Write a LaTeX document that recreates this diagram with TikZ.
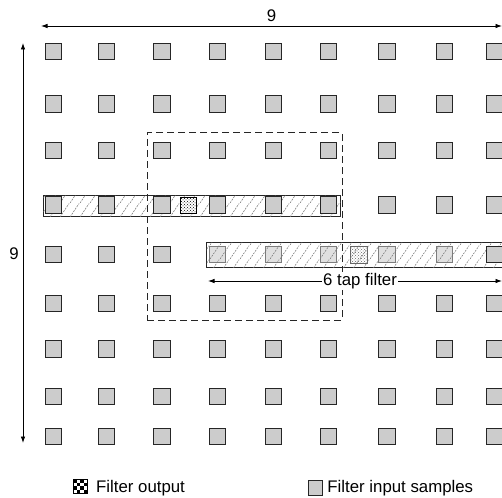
\documentclass[tikz,border=0pt]{standalone}
\usepackage{fontspec}
\setmainfont{Liberation Sans}
\usetikzlibrary{arrows.meta,patterns,patterns.meta,positioning}
\definecolor{Sample}{HTML}{CCCCCC}
\definecolor{Edge}{HTML}{262626}
\definecolor{Hatch}{HTML}{777777}
\tikzdeclarepattern{
  name=bandhatch,
  type=uncolored,
  bounding box={(0pt,0pt) and (10pt,14pt)},
  tile size={(10pt,14pt)},
  code={\draw[line width=.6pt,dash pattern=on 2pt off 1.2pt] (0pt,0pt) -- (10pt,14pt);}
}
\tikzset{
  sample/.style={draw=Edge,fill=Sample,line width=1pt,minimum size=16.5pt,inner sep=0pt},
  output/.style={draw=black,fill=white,line width=1pt,minimum size=16.5pt,inner sep=0pt,postaction={pattern=crosshatch dots}},
  band/.style={draw=Edge,fill=white,line width=.9pt,inner sep=0pt,postaction={pattern=bandhatch,pattern color=Hatch}},
  overband/.style={draw=Edge,fill=white,fill opacity=.4,line width=.9pt,inner sep=0pt,postaction={pattern=bandhatch,pattern color=Hatch,fill opacity=1}},
  region/.style={draw=Edge,dash pattern=on 7pt off 4pt,line width=1pt,inner sep=0pt},
  dimline/.style={{Latex[length=6.5pt,width=4.5pt]}-{Latex[length=6.5pt,width=4.5pt]},line width=.8pt},
  dimtext/.style={font=\fontsize{16.8}{19}\selectfont,inner sep=1pt}
}

\begin{document}
\begin{tikzpicture}[x=1pt,y=-1pt]
  \useasboundingbox (0,0) rectangle (502,497);
  % size of the picture
  \coordinate (wl) at (41,26);
  \coordinate (wr) at (502,26);
  \coordinate (ht) at (23,43);
  \coordinate (hb) at (23,443);
  \draw[dimline] (wl) -- node[dimtext,above=3pt] (wlab) {9} (wr);
  \draw[dimline] (ht) -- (hb);
  \node[dimtext] (hlab) at (14,254) {9};

  % horizontal filter behind the samples
  \node[band,anchor=west,minimum width=297pt,minimum height=21pt] (band1) at (43,205.5) {};

  % input samples
  \foreach \x [count=\c] in {53.5,106.5,162,217.5,273.5,328.5,387,444.5,495}
    \foreach \y [count=\r] in {51.5,104,150.5,205,254.5,303.5,349,396.5,436.5}
      \node[sample] (s\c-\r) at (\x,\y) {};

  \node[output] (out1) at (188.5,205.5) {};
  \node[output] (out2) at (359,255) {};

  % second filter over the samples
  \node[overband,anchor=west,minimum width=302pt,minimum height=25pt] (band2) at (206,255) {};
  \node[sample] at (s9-5) {};

  % window
  \node[region,minimum width=195pt,minimum height=187pt] (win) at (244.5,226.5) {};

  \coordinate (tl) at (208,281);
  \coordinate (tr) at (502,281);
  \draw[dimline] (tl) -- node[dimtext,fill=white,pos=.517] (tlab) {6 tap filter} (tr);

  % legend
  \coordinate (chk) at (73,479);
  \foreach \i in {0,...,3}
    \foreach \j in {0,...,3}{
      \pgfmathparse{int(mod(\i+\j,2))}
      \ifnum\pgfmathresult=0 \fill (73+3.5*\i,479+3.5*\j) rectangle ++(3.5,3.5);\fi
    }
  \draw[line width=.6pt] (chk) rectangle ++(14,14);
  \node[dimtext,anchor=base west] (leg1) at (95,492) {Filter output};
  \node[sample,minimum size=14.5pt] (leg2) at (315.5,488) {};
  \node[dimtext,right=3pt of leg2.east,anchor=west] (leg2t) {Filter input samples};
\end{tikzpicture}
\end{document}
